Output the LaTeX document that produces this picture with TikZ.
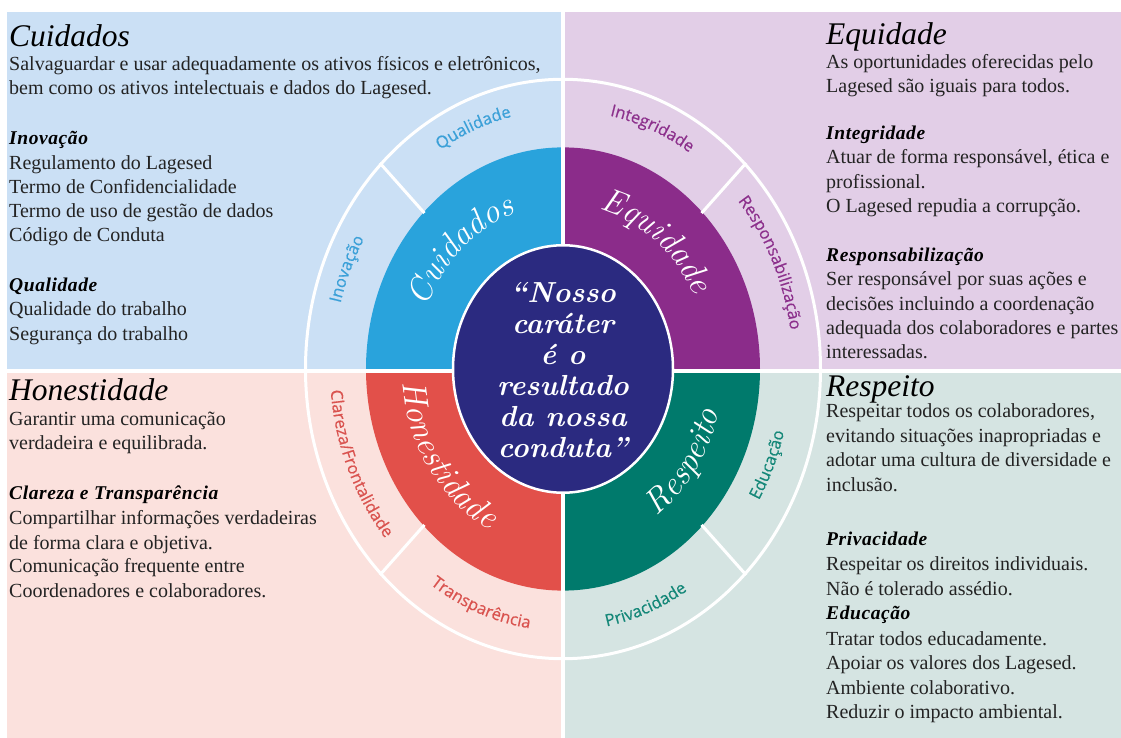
\documentclass[tikz,border=0pt]{standalone}
\usepackage{fontspec}
\newfontfamily\bodyf{Liberation Serif}
\newfontfamily\subf{Liberation Serif}[LetterSpace=3]
\newfontfamily\labelf{Open Sans}[FakeBold=0.6]
\usetikzlibrary{decorations.text}
\definecolor{cbg}{RGB}{203,224,245}
\definecolor{ebg}{RGB}{226,206,231}
\definecolor{hbg}{RGB}{251,225,221}
\definecolor{rbg}{RGB}{213,228,226}
\definecolor{cring}{RGB}{41,163,220}
\definecolor{ering}{RGB}{139,44,138}
\definecolor{hring}{RGB}{226,80,74}
\definecolor{rring}{RGB}{0,122,108}
\definecolor{disc}{RGB}{43,42,128}
\definecolor{clab}{RGB}{59,160,216}
\definecolor{elab}{RGB}{140,48,140}
\definecolor{hlab}{RGB}{217,83,79}
\definecolor{rlab}{RGB}{20,135,120}
\definecolor{txt}{RGB}{35,35,35}
\newcommand\lblfont{\labelf\fontsize{16.5}{16.5}\selectfont}
\newcommand\ringfont{\normalfont\itshape\fontsize{34}{34}\selectfont}
\newcommand\txtline[4]{\node[bodytxt] (#1) at (#2,#3) {#4};}
\newcommand\subline[4]{\node[subtxt] (#1) at (#2,#3) {#4};}
\newcommand\headline[4]{\node[headtxt] (#1) at (#2,#3) {#4};}
\newcommand\arclabel[7]{%
  \path[decorate,decoration={text along path,text align=center,text color=#5,text={|#6|#7}}]
    (#1:#3 and #4) arc[start angle=#1,end angle=#2,x radius=#3,y radius=#4];}
\tikzset{
  bodytxt/.style={anchor=base west,inner sep=0pt,text=txt,font=\bodyf\fontsize{20}{24}\selectfont},
  subtxt/.style={anchor=base west,inner sep=0pt,text=black,font=\subf\bfseries\itshape\fontsize{19.5}{24}\selectfont},
  headtxt/.style={anchor=base west,inner sep=0pt,text=black,font=\bodyf\itshape\fontsize{31.5}{36}\selectfont},
  divider/.style={white,line width=4pt},
  spoke/.style={white,line width=3pt},
}
\begin{document}
\begin{tikzpicture}[x=1pt,y=1pt]
\useasboundingbox (-563,-369) rectangle (558,369);
% quadrant backgrounds
\fill[cbg] (-556,357) rectangle (0,-2);
\fill[ebg] (0,357) rectangle (558,-2);
\fill[hbg] (-556,-2) rectangle (0,-369);
\fill[rbg] (0,-2) rectangle (558,-369);
% coloured ring
\begin{scope}\clip (-300,-2) rectangle (0,300);
  \fill[cring] (0,0) ellipse [x radius=197pt,y radius=221.6pt];\end{scope}
\begin{scope}\clip (0,-2) rectangle (300,300);
  \fill[ering] (0,0) ellipse [x radius=197pt,y radius=221.6pt];\end{scope}
\begin{scope}\clip (-300,-2) rectangle (0,-300);
  \fill[hring] (0,0) ellipse [x radius=197pt,y radius=221.6pt];\end{scope}
\begin{scope}\clip (0,-2) rectangle (300,-300);
  \fill[rring] (0,0) ellipse [x radius=197pt,y radius=221.6pt];\end{scope}
% diagonal dividers of the outer band
\foreach \a in {45,135,225,315}
  \draw[spoke] (\a:196pt and 220.5pt) -- (\a:259pt and 291.4pt);
% outer ellipse
\draw[white,line width=3pt] (0,0) ellipse [x radius=257.5pt,y radius=289.7pt];
% quadrant dividers
\draw[divider] (0,357) -- (0,-369);
\draw[divider] (-556,-2) -- (558,-2);
% centre disc
\path[fill=disc,draw=white,line width=2.5pt] (0,0) ellipse [x radius=110pt,y radius=123.75pt];
\node[align=center,text=white,font=\bfseries\itshape\fontsize{29}{31}\selectfont] (quote) at (0,-1)
  {“Nosso\\caráter\\é o\\resultado\\da nossa\\conduta”};
% ring names
\arclabel{175}{90}{146.5pt}{164.8pt}{white}{\ringfont}{Cuidados}
\arclabel{94}{10}{146.5pt}{164.8pt}{white}{\ringfont}{Equidade}
\arclabel{174}{254}{160.5pt}{180.6pt}{white}{\ringfont}{Honestidade}
\arclabel{285}{365}{160.5pt}{180.6pt}{white}{\ringfont}{Respeito}
% outer band labels
\arclabel{142}{82}{230pt}{258.8pt}{clab}{\lblfont}{Qualidade}
\arclabel{187}{127}{230pt}{258.8pt}{clab}{\lblfont}{Inovação}
\arclabel{98}{38}{230pt}{258.8pt}{elab}{\lblfont}{Integridade}
\arclabel{55}{-5}{230pt}{258.8pt}{elab}{\lblfont}{Responsabilização}
\arclabel{168}{238}{233pt}{262pt}{hlab}{\lblfont}{Clareza/Frontalidade}
\arclabel{219}{279}{233pt}{262pt}{hlab}{\lblfont}{Transparência}
\arclabel{261}{321}{233pt}{262pt}{rlab}{\lblfont}{Privacidade}
\arclabel{307}{367}{228pt}{256.5pt}{rlab}{\lblfont}{Educação}
% texts, in pixel coordinates (y downwards)
\begin{scope}[shift={(-563,369)},yscale=-1]
\headline{hC}{9}{47}{Cuidados}
\txtline{c1}{9}{71}{Salvaguardar e usar adequadamente os ativos físicos e eletrônicos,}
\txtline{c2}{9}{95}{bem como os ativos intelectuais e dados do Lagesed.}
\subline{cs1}{9}{145}{Inovação}
\txtline{c3}{9}{170}{Regulamento do Lagesed}
\txtline{c4}{9}{194}{Termo de Confidencialidade}
\txtline{c5}{9}{218}{Termo de uso de gestão de dados}
\txtline{c6}{9}{242}{Código de Conduta}
\subline{cs2}{9}{292}{Qualidade}
\txtline{c7}{9}{316}{Qualidade do trabalho}
\txtline{c8}{9}{341}{Segurança do trabalho}
%
\headline{hH}{9}{401}{Honestidade}
\txtline{h1}{9}{426}{Garantir uma comunicação}
\txtline{h2}{9}{450}{verdadeira e equilibrada.}
\subline{hs1}{9}{500}{Clareza e Transparência}
\txtline{h3}{9}{525}{Compartilhar informações verdadeiras}
\txtline{h4}{9}{549}{de forma clara e objetiva.}
\txtline{h5}{9}{573}{Comunicação frequente entre}
\txtline{h6}{9}{597}{Coordenadores e colaboradores.}
%
\headline{hE}{826}{45}{Equidade}
\txtline{e1}{826}{69}{As oportunidades oferecidas pelo}
\txtline{e2}{826}{93}{Lagesed são iguais para todos.}
\subline{es1}{826}{140}{Integridade}
\txtline{e3}{826}{164}{Atuar de forma responsável, ética e}
\txtline{e4}{826}{189}{profissional.}
\txtline{e5}{826}{213}{O Lagesed repudia a corrupção.}
\subline{es2}{826}{262}{Responsabilização}
\txtline{e6}{826}{286}{Ser responsável por suas ações e}
\txtline{e7}{826}{311}{decisões incluindo a coordenação}
\txtline{e8}{826}{335}{adequada dos colaboradores e partes}
\txtline{e9}{826}{359}{interessadas.}
%
\headline{hR}{826}{397}{Respeito}
\txtline{r1}{826}{418}{Respeitar todos os colaboradores,}
\txtline{r2}{826}{443}{evitando situações inapropriadas e}
\txtline{r3}{826}{467}{adotar uma cultura de diversidade e}
\txtline{r4}{826}{492}{inclusão.}
\subline{rs1}{826}{545}{Privacidade}
\txtline{r5}{826}{570}{Respeitar os direitos individuais.}
\txtline{r6}{826}{595}{Não é tolerado assédio.}
\subline{rs2}{826}{619}{Educação}
\txtline{r7}{826}{645}{Tratar todos educadamente.}
\txtline{r8}{826}{669}{Apoiar os valores dos Lagesed.}
\txtline{r9}{826}{694}{Ambiente colaborativo.}
\txtline{r10}{826}{718}{Reduzir o impacto ambiental.}
\end{scope}
\end{tikzpicture}
\end{document}
